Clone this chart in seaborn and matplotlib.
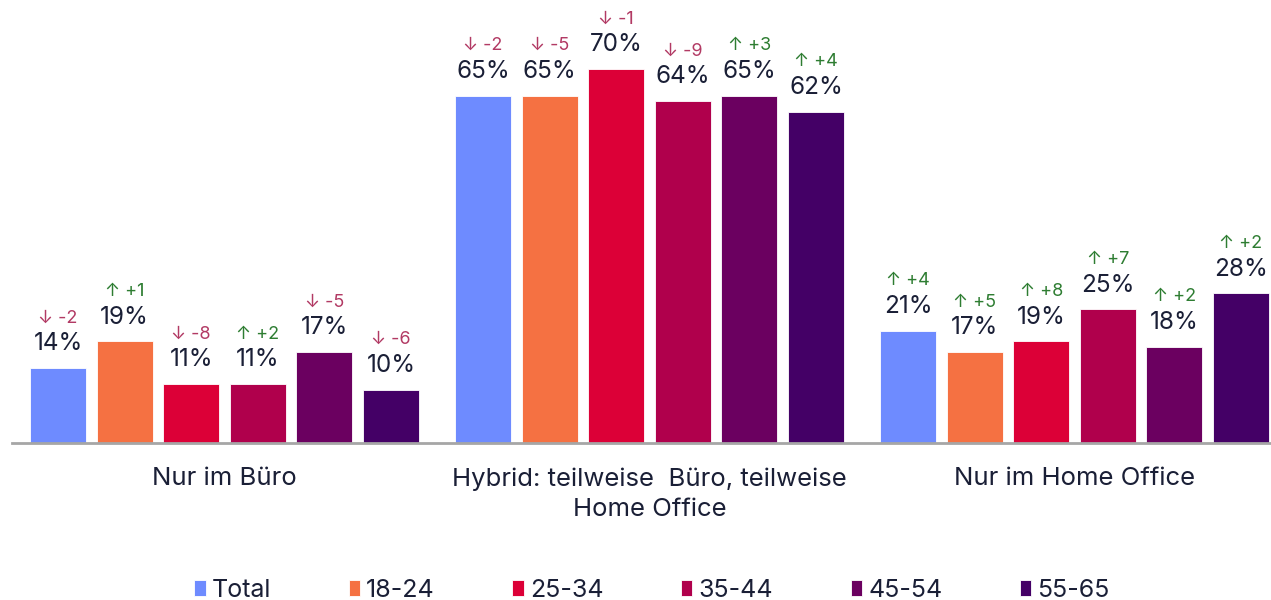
import matplotlib
matplotlib.use("Agg")
import matplotlib.pyplot as plt
import seaborn as sns
import pandas as pd

categories = ["Nur im Büro", "Hybrid: teilweise  Büro, teilweise\nHome Office", "Nur im Home Office"]
groups = ["Total", "18-24", "25-34", "35-44", "45-54", "55-65"]
values_buero = [14, 19, 11, 11, 17, 10]
values_hybrid = [65, 65, 70, 64, 65, 62]
values_home = [21, 17, 19, 25, 18, 28]
delta_buero = [-2, 1, -8, 2, -5, -6]
delta_hybrid = [-2, -5, -1, -9, 3, 4]
delta_home = [4, 5, 8, 7, 2, 2]
colors = ["#6E8BFF", "#F57142", "#DC0037", "#B0004C", "#6B0060", "#440066"]

rows = []
for cat, vals, dels in zip(categories, [values_buero, values_hybrid, values_home],
                           [delta_buero, delta_hybrid, delta_home]):
    for g, v, d in zip(groups, vals, dels):
        rows.append({"cat": cat, "group": g, "value": v, "delta": d})
df = pd.DataFrame(rows)

sns.set_theme(style="white")
plt.rcParams["font.family"] = ["Inter", "DejaVu Sans"]

fig = plt.figure(figsize=(12.71, 6.0), dpi=100)
ax = fig.add_axes([12 / 1271, 157 / 600, 1 - 12 / 1271, 443 / 600])

sns.barplot(data=df, x="cat", y="value", hue="group", order=categories, hue_order=groups,
            palette=colors, width=0.94, gap=0.16, edgecolor="white", linewidth=0.6,
            saturation=1, ax=ax, legend=True)

ax.set_xlim(-0.5, 2.5 - 16 / 425)
ax.set_ylim(0, 82.9)
ax.set_xlabel("")
ax.set_ylabel("")
ax.set_yticks([])
for s in ["top", "right", "left"]:
    ax.spines[s].set_visible(False)
ax.spines["bottom"].set_color("#A6A6A6")
ax.spines["bottom"].set_linewidth(2)
ax.tick_params(axis="x", length=0, pad=17.5, labelsize=18.5, labelcolor="#1A1F36")
for lbl in ax.get_xticklabels():
    lbl.set_linespacing(1.42)

text_color = "#1A1F36"
down_color = "#B23A64"
up_color = "#2E7D32"
for gi, cont in enumerate(ax.containers):
    g = groups[gi]
    sub = df[df["group"] == g].set_index("cat").loc[categories]
    for bar, (cat, row) in zip(cont, sub.iterrows()):
        x = bar.get_x() + bar.get_width() / 2
        h = bar.get_height()
        ax.annotate(f"{int(row['value'])}%", (x, h), xytext=(0, 17.5), textcoords="offset points",
                    ha="center", va="center", fontsize=17.5, color=text_color)
        d = int(row["delta"])
        if d < 0:
            s, c = f"↓ {d}", down_color
        else:
            s, c = f"↑ +{d}", up_color
        ax.annotate(s, (x, h), xytext=(0, 36), textcoords="offset points",
                    ha="center", va="center", fontsize=13, color=c)

handles, labels = ax.get_legend_handles_labels()
ax.get_legend().remove()
fig.legend(handles, labels, loc="center", bbox_to_anchor=(0.513, 0.016), ncol=6, frameon=False,
           fontsize=18, handlelength=0.45, handleheight=0.6, handletextpad=0.25,
           columnspacing=3.1, labelcolor=text_color)

fig.savefig("out.png", dpi=100)
